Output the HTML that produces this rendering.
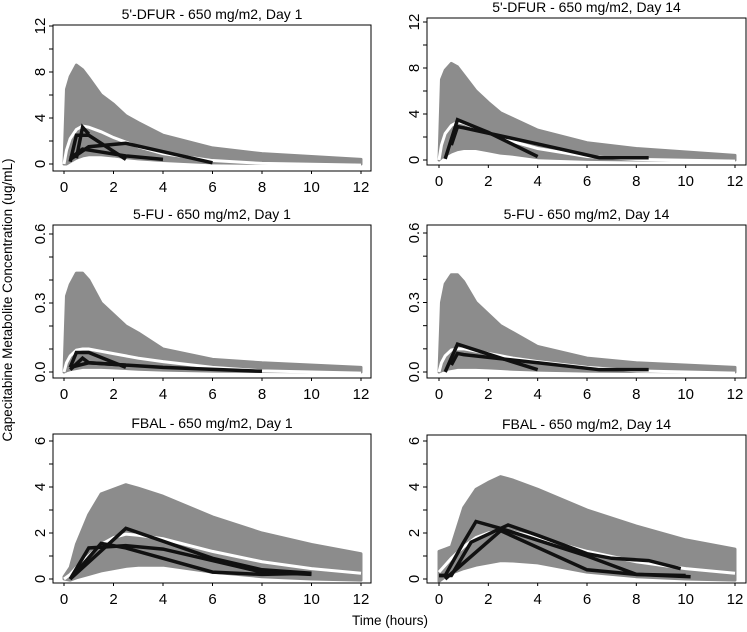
<!DOCTYPE html>
<html><head><meta charset="utf-8"><style>
html,body{margin:0;padding:0;background:#fff;}
svg{display:block;font-family:"Liberation Sans",Arial,sans-serif;}
</style></head><body>
<svg id="chart" width="747" height="632" viewBox="0 0 747 632" xmlns="http://www.w3.org/2000/svg">
<text x="390" y="625" font-size="13.5" text-anchor="middle">Time (hours)</text>
<text transform="translate(12,300) rotate(-90)" font-size="13.5" text-anchor="middle">Capecitabine Metabolite Concentration (ug/mL)</text>
</svg>
<script>
const titles = ["5'-DFUR - 650 mg/m2, Day 1","5'-DFUR - 650 mg/m2, Day 14","5-FU - 650 mg/m2, Day 1","5-FU - 650 mg/m2, Day 14","FBAL - 650 mg/m2, Day 1","FBAL - 650 mg/m2, Day 14"];
const xTickLabels = [0,2,4,6,8,10,12];
const yTickLabelsDfur = [0,4,8,12];
const yTickLabelsFu = ["0.0","0.3","0.6"];
const yTickLabelsFbal = [0,2,4,6];
const bandTimesEarly = [0,0.1,0.25,0.5,0.75,1,1.5,2,2.5,3,4,6,8,12];
const bandTimesFbal = [0,0.25,0.5,1,1.5,2,2.5,3,4,6,8,10,12];
const p1Upper = [0,6.5,7.6,8.6,8.2,7.5,6,5.2,4.2,3.6,2.5,1.4,0.9,0.4];
const p1Lower = [0,0,0.2,0.5,0.7,0.8,0.8,0.7,0.55,0.45,0.3,0.1,0.05,0];
const p1Median = [0,1.2,2.2,3.0,3.3,3.2,2.8,2.3,1.9,1.5,0.9,0.3,0.05,-0.1];
const p2Upper = [0,7,7.8,8.4,8.1,7.4,6,5,4.1,3.6,2.6,1.5,1,0.4];
const p2Lower = [0,0.2,0.4,0.7,0.9,1,1,0.8,0.6,0.5,0.2,0.05,0,0];
const p2Median = [0,1.3,2.3,3.0,3.3,3.2,2.8,2.4,2.0,1.6,1.0,0.3,0.05,-0.1];
const p3Upper = [0,0.33,0.38,0.43,0.43,0.4,0.3,0.25,0.2,0.17,0.1,0.055,0.04,0.02];
const p3Lower = [0,0.005,0.01,0.015,0.02,0.02,0.02,0.018,0.015,0.012,0.008,0.004,0.002,0];
const p3Median = [0,0.04,0.07,0.095,0.1,0.1,0.09,0.08,0.07,0.06,0.045,0.02,0.005,-0.005];
const p4Upper = [0,0.3,0.38,0.42,0.42,0.39,0.3,0.25,0.2,0.17,0.11,0.06,0.04,0.02];
const p4Lower = [0,0.005,0.01,0.015,0.02,0.02,0.02,0.018,0.015,0.012,0.008,0.004,0.002,0];
const p4Median = [0,0.04,0.07,0.095,0.1,0.1,0.09,0.08,0.07,0.06,0.045,0.02,0.005,-0.005];
const p5Upper = [0.1,0.5,1.5,2.8,3.7,3.9,4.1,3.95,3.6,2.7,2.0,1.5,1.1];
const p5Lower = [0,-0.05,0.05,0.2,0.35,0.45,0.55,0.6,0.6,0.3,0.1,0,-0.05];
const p5Median = [0,0.2,0.5,1.0,1.5,1.8,1.95,1.9,1.75,1.2,0.75,0.45,0.25];
const p6Upper = [1.2,1.3,1.4,3.1,3.9,4.2,4.45,4.3,3.9,3.0,2.3,1.7,1.3];
const p6Lower = [-0.1,0.1,0.25,0.45,0.6,0.7,0.8,0.78,0.7,0.3,0.1,0,-0.05];
const p6Median = [0.3,0.6,0.9,1.4,1.8,2.0,2.1,2.05,1.8,1.2,0.75,0.45,0.25];
const p1Obs = [
  [[0.25,0.2],[0.5,2.5],[1,2.5],[2.5,0.4]],
  [[0.5,0.5],[0.75,3.2],[1,2.6]],
  [[0.25,0.4],[1,1.5],[2.5,1.8],[6,0.1]],
  [[0.25,0.5],[0.75,1.3],[2.5,0.7],[4,0.4]]
];
const p2Obs = [
  [[0.25,0.1],[0.75,3.5],[2,2.4],[4,0.3]],
  [[0.5,1.3],[0.75,2.9],[1,2.8],[4,1.4],[6.5,0.2],[8.5,0.2]]
];
const p3Obs = [
  [[0.25,0.02],[0.5,0.085],[1,0.085],[2.5,0.02]],
  [[0.25,0.01],[0.75,0.06],[1,0.04],[2.5,0.03]],
  [[0.25,0.02],[1,0.04],[4,0.02],[8,0.003]]
];
const p4Obs = [
  [[0.25,0.0],[0.75,0.12],[2.5,0.06],[4,0.01]],
  [[0.5,0.03],[0.75,0.08],[1,0.075],[4,0.04],[6.5,0.01],[8.5,0.01]]
];
const p5Obs = [
  [[0.25,0],[2.5,2.2],[6,0.9],[8,0.4],[10,0.25]],
  [[0.25,0],[1,1.35],[2.5,1.45],[4,1.3],[6,0.8],[8,0.3],[10,0.2]],
  [[0.25,0],[1.5,1.55],[2.5,1.35],[6,0.3],[8,0.2],[10,0.25]]
];
const p6Obs = [
  [[0,0.15],[0.25,0.15],[1,1.6],[1.5,2.5],[2.5,2.2],[6,1.0],[8,0.2],[10,0.15]],
  [[0,0.15],[0.5,0.15],[1.3,1.6],[2.8,2.35],[4,1.9],[6,1.1],[7,0.9],[8.5,0.8],[9.8,0.45]],
  [[0.25,0],[2.5,2.1],[6,0.4],[8,0.2],[10.2,0.1]]
];

const NS = "http://www.w3.org/2000/svg";
const svg = document.getElementById('chart');
function mk(tag, attrs, parent){const e=document.createElementNS(NS,tag);for(const k in attrs)e.setAttribute(k,attrs[k]);(parent||svg).appendChild(e);return e;}

const panels = [
 {box:[53,25,371,171], x0:64,x12:361, y0:164,yTop:26, yMax:12, yLabels:yTickLabelsDfur, minor:2, t:bandTimesEarly, up:p1Upper, lo:p1Lower, med:p1Median, obs:p1Obs},
 {box:[427,18,746,165], x0:439,x12:735, y0:160,yTop:22, yMax:12, yLabels:yTickLabelsDfur, minor:2, t:bandTimesEarly, up:p2Upper, lo:p2Lower, med:p2Median, obs:p2Obs},
 {box:[53,225,371,378], x0:64,x12:361, y0:372,yTop:234, yMax:0.6, yLabels:yTickLabelsFu, minor:0.1, t:bandTimesEarly, up:p3Upper, lo:p3Lower, med:p3Median, obs:p3Obs},
 {box:[427,225,746,378], x0:439,x12:735, y0:372,yTop:233, yMax:0.6, yLabels:yTickLabelsFu, minor:0.1, t:bandTimesEarly, up:p4Upper, lo:p4Lower, med:p4Median, obs:p4Obs},
 {box:[53,434,371,583], x0:64,x12:361, y0:579,yTop:441, yMax:6, yLabels:yTickLabelsFbal, minor:1, t:bandTimesFbal, up:p5Upper, lo:p5Lower, med:p5Median, obs:p5Obs},
 {box:[427,435,746,583], x0:439,x12:735, y0:579,yTop:441, yMax:6, yLabels:yTickLabelsFbal, minor:1, t:bandTimesFbal, up:p6Upper, lo:p6Lower, med:p6Median, obs:p6Obs}
];

panels.forEach((p,i)=>{
  const g = mk('g',{});
  
  
  const xs = v => p.x0 + (p.x12-p.x0)*v/12;
  const ys = v => p.y0 - (p.y0-p.yTop)*v/p.yMax;
  const [bx1,by1,bx2,by2] = p.box;
  const cx = (bx1+bx2)/2;
  const tt = mk('text',{x:cx,y:by1-6,'font-size':14,'text-anchor':'middle'},g);
  tt.textContent = titles[i];
  
  
  let d = p.t.map((t,k)=>(k?'L':'M')+xs(t)+','+ys(p.up[k])).join('');
  for(let k=p.t.length-1;k>=0;k--) d += 'L'+xs(p.t[k])+','+ys(p.lo[k]);
  const band = mk('path',{d:d+'Z',fill:'#8c8c8c',stroke:'#8c8c8c','stroke-width':3,'stroke-linejoin':'round'},g);
  
  
  const med = mk('path',{d:p.t.map((t,k)=>(k?'L':'M')+xs(t)+','+ys(p.med[k])).join(''),fill:'none',stroke:'#fff','stroke-width':3},g);
  
  
  p.obs.forEach((o,j)=>{
    const l = mk('path',{d:o.map((pt,k)=>(k?'L':'M')+xs(pt[0])+','+ys(pt[1])).join(''),fill:'none',stroke:'#111','stroke-width':3.5,'stroke-linejoin':'miter'},g);
    
    
  });
  const box = mk('rect',{x:bx1,y:by1,width:bx2-bx1,height:by2-by1,fill:'none',stroke:'#000','stroke-width':1},g);
  
  
  const nMinor = Math.round(p.yMax/p.minor);
  for(let k=0;k<=nMinor;k++){
    const y = ys(k*p.minor);
    mk('line',{x1:bx1-4,x2:bx1,y1:y,y2:y,stroke:'#000','stroke-width':1},g);
  }
  p.yLabels.forEach((lab,k)=>{
    const v = p.yMax*k/(p.yLabels.length-1);
    const y = ys(v);
    const tx = mk('text',{transform:`translate(${bx1-8},${y}) rotate(-90)`,'font-size':15,'text-anchor':'middle'},g);
    tx.textContent = lab;
    
    
  });
  xTickLabels.forEach(v=>{
    const x = xs(v);
    mk('line',{x1:x,x2:x,y1:by2,y2:by2+3,stroke:'#000','stroke-width':1},g);
    const tx = mk('text',{x:x,y:by2+21,'font-size':15,'text-anchor':'middle'},g);
    tx.textContent = v;
    
    
  });
});
</script>
</body></html>
